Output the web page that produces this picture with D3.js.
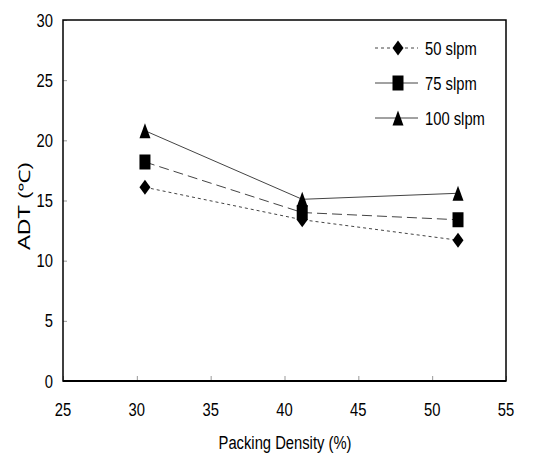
<!DOCTYPE html>
<html>
<head>
<meta charset="utf-8">
<script src="https://cdn.jsdelivr.net/npm/d3@7"></script>
<style>
  body { margin: 0; background: #fff; }
  svg { display: block; font-family: "Liberation Sans", Arial, sans-serif; }
</style>
</head>
<body>
<svg id="chart" width="554" height="456"></svg>
<script>
// ADT vs packing density, three flow rates
const seriesNames = ["50 slpm", "75 slpm", "100 slpm"];
// x positions as they sit in the picture (markers are offset from the ticks)
const packing = [30.55, 41.2, 51.75];
const adt50 = [16.1, 13.4, 11.7];
const adt75 = [18.2, 14.0, 13.4];
const adt100 = [20.8, 15.1, 15.6];
const xTicks = [25, 30, 35, 40, 45, 50, 55];
const yTicks = [0, 5, 10, 15, 20, 25, 30];

const svg = d3.select("#chart");
const plot = { left: 63, right: 506, top: 20, bottom: 381 };
const fontSize = 18;
const squeeze = 0.82; // the original text is horizontally condensed

const x = d3.scaleLinear().domain([25, 55]).range([plot.left, plot.right]);
const y = d3.scaleLinear().domain([0, 30]).range([plot.bottom, plot.top]);

const styles = {
  "50 slpm": { dash: "3,3", shape: "diamond" },
  "75 slpm": { dash: "10,5", shape: "square" },
  "100 slpm": { dash: null, shape: "triangle" }
};

const series = seriesNames.map((name, i) => ({
  name,
  values: [adt50, adt75, adt100][i]
}));

// squeeze each text horizontally to mimic the narrow face
const narrow = sel =>
  sel.each(function () {
    const w = this.getComputedTextLength();
    d3.select(this)
      .attr("textLength", w * squeeze)
      .attr("lengthAdjust", "spacingAndGlyphs");
  });

// marker path, 11 wide x 15 tall like the original
const markerPath = shape => {
  const w = 5.5, h = 7.5;
  if (shape === "diamond") return `M0,${-h}L${w},0L0,${h}L${-w},0Z`;
  if (shape === "square") return `M${-w},${-h}H${w}V${h}H${-w}Z`;
  return `M0,${-h}L${w},${h}H${-w}Z`;
};

// Axes (inside ticks, light grey)
svg.append("g")
  .attr("transform", `translate(0,${plot.bottom})`)
  .call(d3.axisTop(x).tickValues(xTicks).tickSize(5).tickFormat(""))
  .call(g => g.select(".domain").remove())
  .call(g => g.selectAll("line").attr("stroke", "#999"));

svg.append("g")
  .attr("transform", `translate(${plot.left},0)`)
  .call(d3.axisRight(y).tickValues(yTicks).tickSize(4).tickFormat(""))
  .call(g => g.select(".domain").remove())
  .call(g => g.selectAll("line").attr("stroke", "#999"));

// tick labels
svg.append("g")
  .selectAll("text")
  .data(xTicks)
  .join("text")
  .attr("x", d => x(d))
  .attr("y", 416)
  .attr("text-anchor", "middle")
  .attr("font-size", fontSize)
  .attr("fill", "#000")
  .text(d => d)
  .call(narrow);

svg.append("g")
  .selectAll("text")
  .data(yTicks)
  .join("text")
  .attr("x", 53)
  .attr("y", d => y(d) + 6.5)
  .attr("text-anchor", "end")
  .attr("font-size", fontSize)
  .attr("fill", "#000")
  .text(d => d)
  .call(narrow);

// Frame
svg.append("rect")
  .attr("x", plot.left)
  .attr("y", plot.top)
  .attr("width", plot.right - plot.left)
  .attr("height", plot.bottom - plot.top)
  .attr("fill", "none")
  .attr("stroke", "#000")
  .attr("stroke-width", 1.5);

svg.append("line")
  .attr("x1", plot.left)
  .attr("x2", plot.right)
  .attr("y1", plot.bottom)
  .attr("y2", plot.bottom)
  .attr("stroke", "#000")
  .attr("stroke-width", 2.2);

// Lines + markers
const line = d3.line().x(d => x(d[0])).y(d => y(d[1]));

series.forEach(s => {
  const pts = packing.map((p, i) => [p, s.values[i]]);
  const st = styles[s.name];
  svg.append("path")
    .datum(pts)
    .attr("fill", "none")
    .attr("stroke", "#444")
    .attr("stroke-width", 1)
    .attr("stroke-dasharray", st.dash)
    .attr("d", line);

  svg.append("g")
    .selectAll("path")
    .data(pts)
    .join("path")
    .attr("transform", d => `translate(${x(d[0])},${y(d[1])})`)
    .attr("d", markerPath(st.shape))
    .attr("fill", "#000");
});

// Legend
const legend = svg.append("g");
const legendY = [48, 83, 118];
series.forEach((s, i) => {
  const st = styles[s.name];
  const g = legend.append("g").attr("transform", `translate(0,${legendY[i]})`);
  g.append("line")
    .attr("x1", 375)
    .attr("x2", 418)
    .attr("stroke", "#444")
    .attr("stroke-width", 1)
    .attr("stroke-dasharray", st.dash === "10,5" ? null : st.dash);
  g.append("path")
    .attr("transform", "translate(398,0)")
    .attr("d", markerPath(st.shape))
    .attr("fill", "#000");
  g.append("text")
    .attr("x", 425)
    .attr("y", 6.5)
    .attr("font-size", fontSize)
    .attr("fill", "#000")
    .text(s.name)
    .call(narrow);
});

// Axis titles
svg.append("text")
  .attr("x", 285)
  .attr("y", 449)
  .attr("text-anchor", "middle")
  .attr("font-size", fontSize)
  .attr("fill", "#000")
  .text("Packing Density (%)")
  .call(narrow);

// rotated: the squeeze acts on glyph height, not on length
svg.append("text")
  .attr("transform", `translate(30,206) rotate(-90) scale(1,${squeeze})`)
  .attr("text-anchor", "middle")
  .attr("font-size", 19)
  .attr("fill", "#000")
  .attr("textLength", 88)
  .attr("lengthAdjust", "spacingAndGlyphs")
  .text("ADT (℃)");
</script>
</body>
</html>
